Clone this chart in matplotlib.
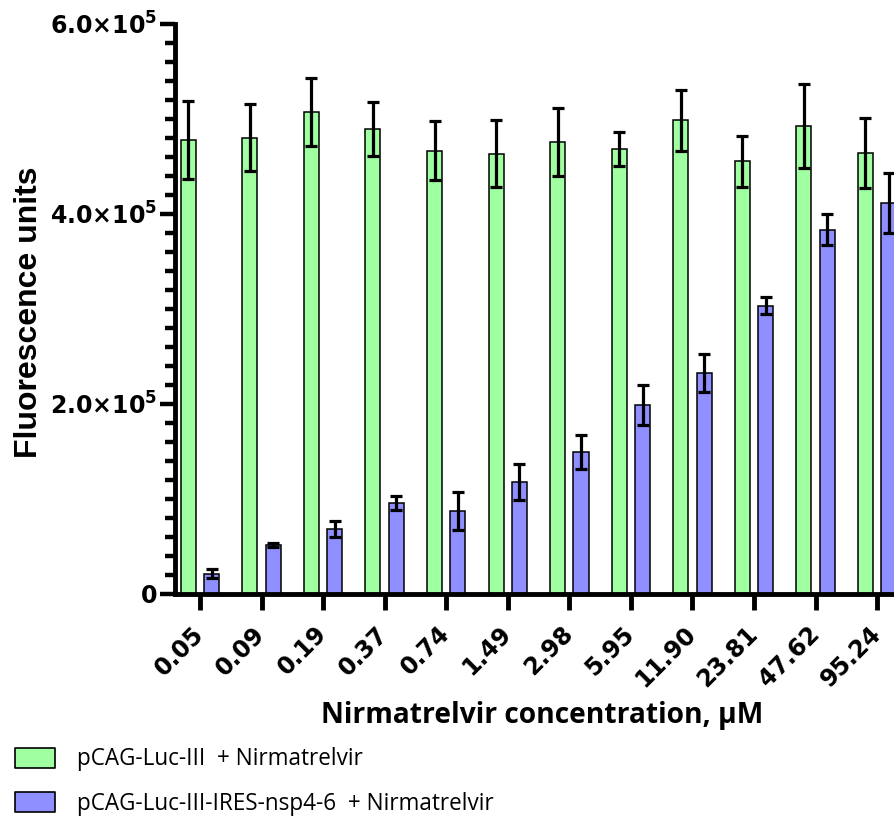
import matplotlib
matplotlib.use("Agg")
import matplotlib.pyplot as plt
import numpy as np
from matplotlib.patches import Rectangle
from matplotlib.ticker import MultipleLocator

plt.rcParams["font.family"] = "DejaVu Sans"
plt.rcParams["mathtext.fontset"] = "dejavusans"

# Nirmatrelvir concentration (uM) and fluorescence readouts (mean, SD)
conc = ["0.05", "0.09", "0.19", "0.37", "0.74", "1.49",
        "2.98", "5.95", "11.90", "23.81", "47.62", "95.24"]
luc = [4.77e5, 4.80e5, 5.07e5, 4.89e5, 4.66e5, 4.63e5,
       4.75e5, 4.68e5, 4.98e5, 4.55e5, 4.92e5, 4.64e5]
luc_sd = [0.41e5, 0.35e5, 0.36e5, 0.28e5, 0.31e5, 0.35e5,
          0.36e5, 0.18e5, 0.32e5, 0.27e5, 0.44e5, 0.37e5]
nsp = [0.21e5, 0.51e5, 0.68e5, 0.95e5, 0.87e5, 1.17e5,
       1.49e5, 1.98e5, 2.32e5, 3.03e5, 3.83e5, 4.11e5]
nsp_sd = [0.045e5, 0.02e5, 0.08e5, 0.075e5, 0.20e5, 0.19e5,
          0.18e5, 0.21e5, 0.20e5, 0.09e5, 0.16e5, 0.32e5]
yticks = [0, 2e5, 4e5, 6e5]
series_names = ["pCAG-Luc-III  + Nirmatrelvir",
                "pCAG-Luc-III-IRES-nsp4-6  + Nirmatrelvir"]

GREEN = "#A0FFA0"
BLUE = "#8F8FFF"
W, H = 894, 816

fig = plt.figure(figsize=(W / 100, H / 100), dpi=100)
# the source picture is cropped on the right, so the axes run off the edge
ax = fig.add_axes([174.5 / W, 222.5 / H, 1 - 174.5 / W, 570 / H])

x = np.arange(len(conc))
err_kw = dict(elinewidth=2.3, capsize=4.5, capthick=2.3, ecolor="black")
ax.bar(x - 0.19, luc, 0.245, yerr=luc_sd, color=GREEN, edgecolor="black",
       linewidth=1.1, error_kw=err_kw)
ax.bar(x + 0.19, nsp, 0.245, yerr=nsp_sd, color=BLUE, edgecolor="black",
       linewidth=1.1, error_kw=err_kw)

ax.set_xlim(-0.414, 11.275)
ax.set_ylim(0, 6e5)
ax.set_yticks(yticks)
ax.set_yticklabels(["0" if v == 0 else f"{v / 1e5:.1f}×10$^{{\\mathbf{{5}}}}$" for v in yticks],
                   fontsize=17, fontweight="bold")
ax.yaxis.set_minor_locator(MultipleLocator(2e4))
ax.set_xticks(x)
ax.set_xticklabels(conc, rotation=45, ha="right", va="center", rotation_mode="anchor",
                   fontsize=17, fontweight="bold")

ax.tick_params(axis="y", which="major", length=11, width=3.2, pad=1.5)
ax.tick_params(axis="y", which="minor", length=7, width=3.2)
ax.tick_params(axis="x", length=11.5, width=3.5, pad=15)
for k, sp in ax.spines.items():
    sp.set_visible(k in ("left", "bottom"))
    sp.set_linewidth(3.5)

ax.set_xlabel("Nirmatrelvir concentration, µM", fontfamily="Open Sans",
              fontweight="bold", fontsize=20)
ax.xaxis.set_label_coords(542.5 / W, 1 - 701 / H, transform=fig.transFigure)
ax.set_ylabel("Fluorescence units", fontfamily=["Liberation Sans Narrow", "Liberation Sans"],
              fontweight="bold", fontsize=26)
ax.yaxis.set_label_coords(44 / W, 1 - 312 / H, transform=fig.transFigure)

# legend drawn by hand, stacked under the axis title
legend_txt = []
for i, (name, col) in enumerate(zip(series_names, [GREEN, BLUE])):
    top = 748 + 44 * i
    fig.patches.append(Rectangle((15 / W, 1 - (top + 20) / H), 40 / W, 20 / H,
                                 transform=fig.transFigure, facecolor=col,
                                 edgecolor="black", linewidth=1.2, joinstyle="round"))
    legend_txt.append(fig.text(77 / W, 1 - (765 + 45 * i) / H, name,
                               fontfamily="Open Sans", fontsize=14, va="baseline"))


def fit(t, target_px, vertical=False):
    """Scale a text's font size so its rendered extent hits target_px."""
    bb = t.get_window_extent(fig.canvas.get_renderer())
    cur = bb.height if vertical else bb.width
    t.set_fontsize(t.get_fontsize() * target_px / cur)


fit(ax.xaxis.label, 441)
fit(ax.yaxis.label, 292, vertical=True)
fit(legend_txt[0], 287)
legend_txt[1].set_fontsize(legend_txt[0].get_fontsize())

fig.savefig("out.png", dpi=100, facecolor="white")
